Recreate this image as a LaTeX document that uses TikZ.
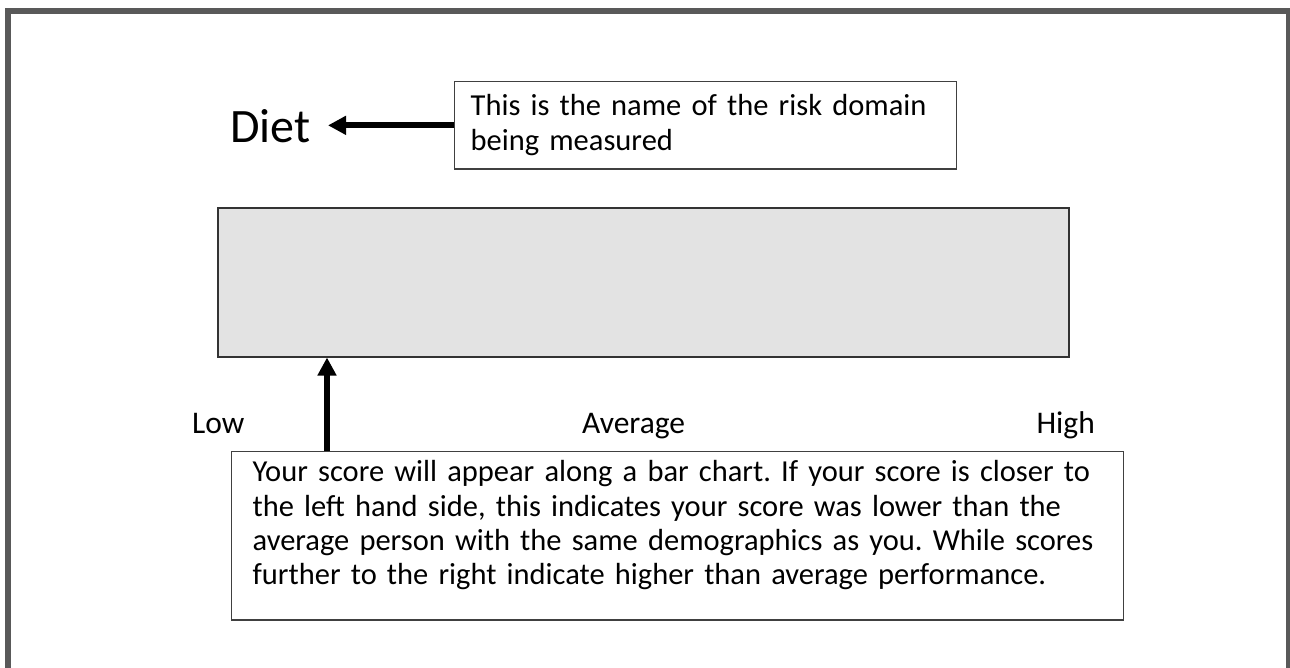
\documentclass[tikz,border=0pt]{standalone}
\usepackage{fontspec}
\setmainfont{Carlito}
\usetikzlibrary{arrows.meta}
\definecolor{framegray}{HTML}{595959}
\definecolor{barfill}{HTML}{E3E3E3}
\definecolor{boxline}{HTML}{404040}
\tikzset{
  txt/.style={font=\fontsize{31.5}{34.5}\selectfont, inner sep=0pt},
  notebox/.style={draw=boxline, line width=1.3pt, fill=white, align=left,
    font=\fontsize{30.5}{34.4}\selectfont\frenchspacing, inner ysep=7pt, anchor=north west},
  bigarrow/.style={line width=6pt, -{Triangle[width=18pt,length=18pt]}},
}
\begin{document}
\begin{tikzpicture}[x=1pt,y=-1pt]
\useasboundingbox (0,0) rectangle (1290,667);
\clip (0,0) rectangle (1290,667);
\draw[framegray, line width=6pt] (8,11) rectangle (1289,720);
% score bar
\node[draw=black!80, line width=1.5pt, fill=barfill, anchor=north west,
  minimum width=851pt, minimum height=149pt, inner sep=0pt] (bar) at (217,207) {};
% title
\node[txt, font=\fontsize{48}{52}\selectfont, anchor=base west] (diet) at (230,142) {Diet};
% note boxes
\node[notebox, inner xsep=16pt, text width=470pt] (note1) at (454,81)
  {\rule{0pt}{27pt}\mbox{This is the name of the risk domain}\\
   \mbox{being measured}\rule[-12pt]{0pt}{1pt}};
\node[notebox, inner xsep=21pt, text width=850pt] (note2) at (231,451)
  {\rule{0pt}{23pt}\mbox{Your score will appear along a bar chart. If your score is closer to}\\
   \mbox{the left hand side, this indicates your score was lower than the}\\
   \mbox{average person with the same demographics as you. While scores}\\
   \mbox{further to the right indicate higher than average performance.}\rule[-28pt]{0pt}{1pt}};
% scale labels
\node[txt, anchor=base west] (low) at (192,433) {Low};
\node[txt, anchor=base west] (avg) at (582,433) {Average};
\node[txt, anchor=base east] (high) at (1095,433) {High};
% arrows
\coordinate (dietend) at (328,0);
\draw[bigarrow] (note1.west) -- (note1.west -| dietend);
\coordinate (arrowbase) at (327,0);
\draw[bigarrow] (note2.north -| arrowbase) -- (bar.south -| arrowbase);
\end{tikzpicture}
\end{document}
